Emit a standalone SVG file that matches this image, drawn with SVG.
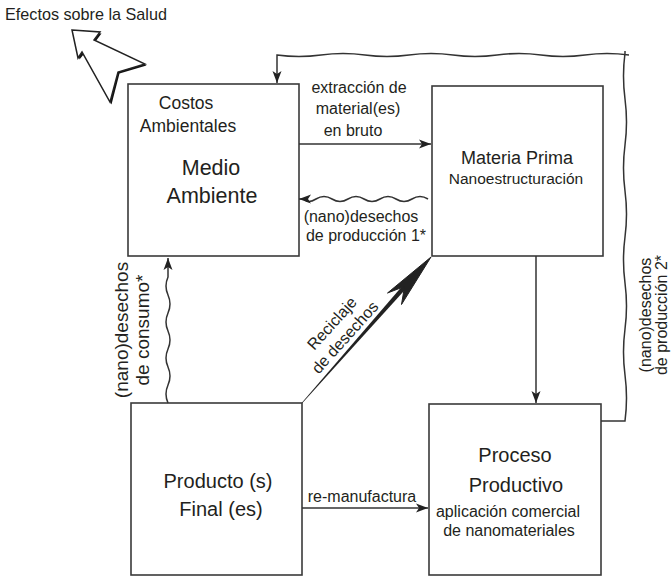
<svg xmlns="http://www.w3.org/2000/svg" width="671" height="576" viewBox="0 0 671 576">
<style>
text{font-family:"Liberation Sans",Arial,sans-serif;fill:#231f20}
.box{fill:#fff;stroke:#3a3a3a;stroke-width:1.6}
.ln{fill:none;stroke:#333;stroke-width:1.5}
.lbl{font-size:16px;text-anchor:middle}
.big{font-size:20px;text-anchor:middle}
.mid{font-size:17.5px;text-anchor:middle}
</style>
<defs>
<marker id="arr" viewBox="-13 -5 14 10" refX="0" refY="0" markerWidth="14" markerHeight="10" markerUnits="userSpaceOnUse" orient="auto">
<path d="M0,0 L-12,-4.5 L-9,0 L-12,4.5 Z" fill="#222"/>
</marker>
</defs>

<g id="efectos">
<text x="5" y="20" font-size="16.2">Efectos sobre la Salud</text>
<polygon points="73.5,31.5 101.5,33.5 95.5,41.5 146.5,65.5 119.5,73.5 111.5,104.5 83.5,54.5 79.5,59.5" fill="#111"/>
<polygon points="72,30 100,32 94,40 145,64 118,72 110,102 82,52 78,58" fill="#fff" stroke="#222" stroke-width="1.5" stroke-linejoin="miter"/>
</g>

<g id="medio-ambiente">
<rect class="box" x="128" y="84" width="171" height="172"/>
<text class="mid" x="186" y="109">Costos</text>
<text class="mid" x="188" y="132">Ambientales</text>
<text font-size="21.5" text-anchor="middle" x="211" y="175">Medio</text>
<text font-size="21.5" text-anchor="middle" x="212" y="203">Ambiente</text>
</g>

<g id="materia-prima">
<rect class="box" x="432" y="86" width="171" height="170"/>
<text font-size="18" text-anchor="middle" x="517" y="164">Materia Prima</text>
<text font-size="15.5" text-anchor="middle" x="516" y="184">Nanoestructuración</text>
</g>

<g id="producto-final">
<rect class="box" x="131" y="403" width="171" height="172"/>
<text class="big" x="218" y="488">Producto (s)</text>
<text class="big" x="221" y="516">Final (es)</text>
</g>

<g id="proceso-productivo">
<rect class="box" x="429" y="404" width="172" height="171"/>
<text class="big" x="515" y="462">Proceso</text>
<text class="big" x="516" y="492">Productivo</text>
<text font-size="16" text-anchor="middle" x="508" y="517">aplicación comercial</text>
<text font-size="16" text-anchor="middle" x="509" y="536">de nanomateriales</text>
</g>

<g id="connectors">
<path class="ln" d="M299,144 H431" marker-end="url(#arr)"/>
<text class="lbl" x="359" y="93">extracción de</text>
<text class="lbl" x="358" y="114">material(es)</text>
<text class="lbl" x="353" y="136">en bruto</text>
<path class="ln" d="M428,199 q-8,-5 -16,0 t-16,0 t-16,0 t-16,0 t-16,0 t-16,0 t-16,0 t-12,0 H299" marker-end="url(#arr)"/>
<text class="lbl" x="361" y="222">(nano)desechos</text>
<text class="lbl" x="366" y="241">de producción 1*</text>
<path class="ln" d="M536,256 V403" marker-end="url(#arr)"/>
<path class="ln" d="M302,508 H428" marker-end="url(#arr)"/>
<text class="lbl" x="362" y="502">re-manufactura</text>
<path class="ln" d="M168,403 q-4,-9 0,-18 t0,-18 t0,-18 t0,-18 t0,-18 t0,-18 t0,-18 V258" marker-end="url(#arr)"/>
<text font-size="19" text-anchor="middle" transform="translate(128,330) rotate(-90)">(nano)desechos</text>
<text font-size="19" text-anchor="middle" transform="translate(149,330) rotate(-90)">de consumo*</text>
<polygon points="302.2,403.3 413,281 409.4,277.8 301.8,402.7" fill="#222"/>
<polygon points="431,257 387.5,293 404.5,286.5 401.5,304.5" fill="#222" stroke="#222" stroke-width="1" stroke-linejoin="miter"/>
<text class="lbl" transform="translate(336,327) rotate(-48)">Reciclaje</text>
<text class="lbl" transform="translate(349,341) rotate(-48)">de desechos</text>
<path class="ln" d="M601,421 H625 q3,-23 0,-46 t0,-46 t0,-46 t0,-46 t0,-46 t0,-46 t0,-46 t0,-46 V51"/>
<path class="ln" d="M629,55 q-22,-3 -44,0 t-44,0 t-44,0 t-44,0 t-44,0 t-44,0 t-44,0 t-44,0 H277 V83" marker-end="url(#arr)"/>
<text class="lbl" transform="translate(651,315) rotate(-90)">(nano)desechos</text>
<text class="lbl" transform="translate(667,315) rotate(-90)">de producción 2*</text>
</g>
</svg>
